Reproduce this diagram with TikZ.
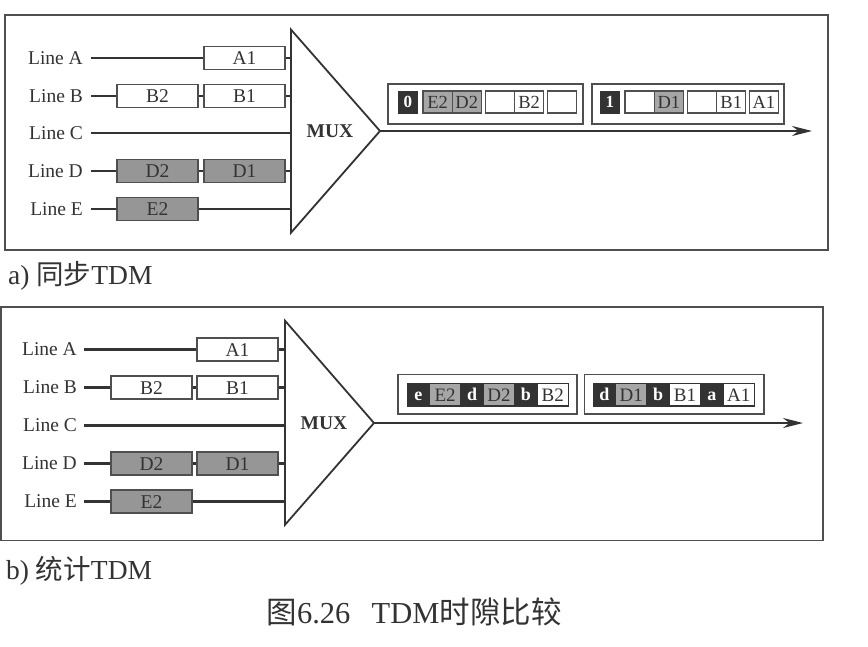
\documentclass[tikz,border=0pt]{standalone}
\usepackage{fontspec}
\setmainfont{Liberation Serif}
\newfontfamily\cjk{Noto Sans CJK SC}
\usetikzlibrary{arrows.meta}
\definecolor{ink}{HTML}{333333}
\definecolor{frm}{HTML}{4F4F4F}
\definecolor{graybox}{HTML}{969696}
\definecolor{grayslot}{HTML}{A6A6A6}
\definecolor{blk}{HTML}{333333}
\begin{document}
\begin{tikzpicture}[x=1pt,y=-1pt,
  lbl/.style={anchor=east,inner sep=0pt,font=\fontsize{19.5}{19.5}\selectfont,text=ink},
  inbox/.style={draw=frm,line width=1.3pt,fill=white,minimum width=81pt,minimum height=23pt,inner sep=0pt,text height=13pt,text depth=0pt,font=\fontsize{19.5}{19.5}\selectfont,text=ink},
  ingray/.style={inbox,fill=graybox},
  wire/.style={draw=ink,line width=2.1pt},
  muxshape/.style={draw=ink,line width=1.8pt,line join=miter},
  muxlbl/.style={inner sep=0pt,font=\fontsize{19.5}{19.5}\selectfont\bfseries,text=ink},
  arr/.style={draw=ink,line width=2.1pt,-{Stealth[length=20pt,width=10pt]}},
  panel/.style={draw=frm,line width=1.4pt},
  frameb/.style={draw=frm,line width=1.4pt,minimum height=40pt,inner sep=0pt},
  blkslot/.style={fill=blk,draw=blk,minimum width=19.5pt,minimum height=22pt,inner sep=0pt,text height=11.5pt,text depth=0pt,text=white,font=\fontsize{17}{17}\selectfont\bfseries},
  slot/.style={draw=frm,line width=1.3pt,fill=white,minimum width=29.2pt,minimum height=22pt,inner sep=0pt,text height=12.3pt,text depth=0pt,font=\fontsize{18.5}{18.5}\selectfont,text=ink},
  gslot/.style={slot,fill=grayslot},
  blkb/.style={fill=blk,draw=blk,minimum width=22.5pt,minimum height=22.5pt,inner sep=0pt,text height=12pt,text depth=0pt,text=white,font=\fontsize{18}{18}\selectfont\bfseries},
  dslot/.style={draw=blk,line width=1.4pt,fill=white,minimum width=31.3pt,minimum height=22.5pt,inner sep=0pt,text height=12.6pt,text depth=0pt,font=\fontsize{19}{19}\selectfont,text=ink},
  dgslot/.style={dslot,fill=grayslot},
  captext/.style={inner sep=0pt,text=ink}
]
\useasboundingbox[fill=white] (0,0) rectangle (868,646);

% ================= panel a =================
\draw[panel] (5,15) rectangle (828,250);

\node[lbl] (laA) at (83,58) {Line A};
\node[lbl] (laB) at (83,95.7) {Line B};
\node[lbl] (laC) at (83,133.4) {Line C};
\node[lbl] (laD) at (83,171.1) {Line D};
\node[lbl] (laE) at (83,208.8) {Line E};

\node[inbox]  (aA1) at (244.5,58) {A1};
\node[inbox]  (aB2) at (157.5,95.7) {B2};
\node[inbox]  (aB1) at (244.5,95.7) {B1};
\node[ingray] (aD2) at (157.5,171.1) {D2};
\node[ingray] (aD1) at (244.5,171.1) {D1};
\node[ingray] (aE2) at (157.5,208.8) {E2};

\coordinate (muxTa) at (291,29.6);
\coordinate (muxBa) at (291,232.7);
\coordinate (muxPa) at (380,131);
\coordinate (mAa) at (291,58);
\coordinate (mBa) at (291,95.7);
\coordinate (mCa) at (291,133.4);
\coordinate (mDa) at (291,171.1);
\coordinate (mEa) at (291,208.8);
\coordinate (outa) at (812,131);

\draw[wire,shorten <=8pt] (laA.east) -- (aA1.west);
\draw[wire] (aA1.east) -- (mAa);
\draw[wire,shorten <=8pt] (laB.east) -- (aB2.west);
\draw[wire] (aB2.east) -- (aB1.west);
\draw[wire] (aB1.east) -- (mBa);
\draw[wire,shorten <=8pt] (laC.east) -- (mCa);
\draw[wire,shorten <=8pt] (laD.east) -- (aD2.west);
\draw[wire] (aD2.east) -- (aD1.west);
\draw[wire] (aD1.east) -- (mDa);
\draw[wire,shorten <=8pt] (laE.east) -- (aE2.west);
\draw[wire] (aE2.east) -- (mEa);

\draw[muxshape,fill=white] (muxTa) -- (muxPa) -- (muxBa) -- cycle;
\node[muxlbl] (muxa) at (330,131) {MUX};
\draw[arr] (muxPa) -- (outa);

\node[frameb,minimum width=195pt] (fa1) at (485.5,104) {};
\node[frameb,minimum width=192pt] (fa2) at (688,104) {};

\node[blkslot] (a0) at (407.75,102) {0};
\node[gslot] (aoE2) at (437.6,102) {E2};
\node[gslot] (aoD2) at (466.8,102) {D2};
\node[slot]  (aoX1) at (500,102) {};
\node[slot]  (aoB2) at (529.2,102) {B2};
\node[slot]  (aoX2) at (561.9,102) {};

\node[blkslot] (a1) at (609.75,102) {1};
\node[slot]  (aoX3) at (639.6,102) {};
\node[gslot] (aoD1) at (668.8,102) {D1};
\node[slot]  (aoX4) at (702,102) {};
\node[slot]  (aoB1) at (731.2,102) {B1};
\node[slot]  (aoA1) at (763.9,102) {A1};

\node[captext,anchor=west,font=\fontsize{27.5}{27.5}\selectfont] (capa) at (8,276) {a) {\cjk 同步}TDM};

% ================= panel b =================
\draw[panel] (1,307) rectangle (823,540.5);

\node[lbl] (lbA) at (77,349.5) {Line A};
\node[lbl] (lbB) at (77,387.5) {Line B};
\node[lbl] (lbC) at (77,425.5) {Line C};
\node[lbl] (lbD) at (77,463.5) {Line D};
\node[lbl] (lbE) at (77,501.5) {Line E};

\node[inbox]  (bA1) at (237.5,349.5) {A1};
\node[inbox]  (bB2) at (151.5,387.5) {B2};
\node[inbox]  (bB1) at (237.5,387.5) {B1};
\node[ingray] (bD2) at (151.5,463.5) {D2};
\node[ingray] (bD1) at (237.5,463.5) {D1};
\node[ingray] (bE2) at (151.5,501.5) {E2};

\coordinate (muxTb) at (285,320.7);
\coordinate (muxBb) at (285,524.8);
\coordinate (muxPb) at (374,423);
\coordinate (mAb) at (285,349.5);
\coordinate (mBb) at (285,387.5);
\coordinate (mCb) at (285,425.5);
\coordinate (mDb) at (285,463.5);
\coordinate (mEb) at (285,501.5);
\coordinate (outb) at (803,423);

\draw[wire,shorten <=7pt] (lbA.east) -- (bA1.west);
\draw[wire] (bA1.east) -- (mAb);
\draw[wire,shorten <=7pt] (lbB.east) -- (bB2.west);
\draw[wire] (bB2.east) -- (bB1.west);
\draw[wire] (bB1.east) -- (mBb);
\draw[wire,shorten <=7pt] (lbC.east) -- (mCb);
\draw[wire,shorten <=7pt] (lbD.east) -- (bD2.west);
\draw[wire] (bD2.east) -- (bD1.west);
\draw[wire] (bD1.east) -- (mDb);
\draw[wire,shorten <=7pt] (lbE.east) -- (bE2.west);
\draw[wire] (bE2.east) -- (mEb);

\draw[muxshape,fill=white] (muxTb) -- (muxPb) -- (muxBb) -- cycle;
\node[muxlbl] (muxb) at (324,423) {MUX};
\draw[arr] (muxPb) -- (outb);

\node[frameb,minimum width=179pt,minimum height=39.5pt] (fb1) at (487.5,394.25) {};
\node[frameb,minimum width=179.5pt,minimum height=39.5pt] (fb2) at (674.25,394.25) {};

\node[blkb]   (be)  at (418.25,394.75) {e};
\node[dgslot] (bE2o) at (445.15,394.75) {E2};
\node[blkb]   (bd)  at (472.05,394.75) {d};
\node[dgslot] (bD2o) at (498.95,394.75) {D2};
\node[blkb]   (bb)  at (525.85,394.75) {b};
\node[dslot]  (bB2o) at (552.75,394.75) {B2};

\node[blkb]   (bd2) at (604.25,394.75) {d};
\node[dgslot] (bD1o) at (631.15,394.75) {D1};
\node[blkb]   (bb2) at (658.05,394.75) {b};
\node[dslot]  (bB1o) at (684.95,394.75) {B1};
\node[blkb]   (ba)  at (711.85,394.75) {a};
\node[dslot]  (bA1o) at (738.75,394.75) {A1};

\node[captext,anchor=west,font=\fontsize{27.5}{27.5}\selectfont] (capb) at (6,571) {b) {\cjk 统计}TDM};

% ================= caption =================
\node[captext,font=\fontsize{30.5}{30.5}\selectfont] (caption) at (414,612) {{\cjk 图}6.26\hspace{0.7em}TDM{\cjk 时隙比较}};
\end{tikzpicture}
\end{document}
